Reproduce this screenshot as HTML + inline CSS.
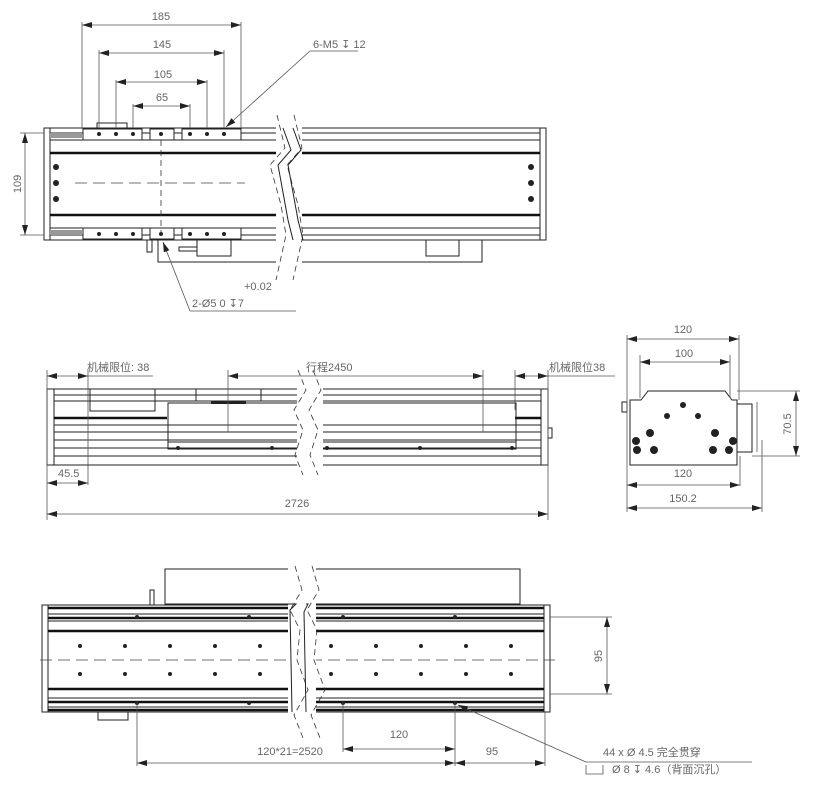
<!DOCTYPE html>
<html><head><meta charset="utf-8"><style>
html,body{margin:0;padding:0;background:#fff}
svg{display:block}
text{font-family:"Liberation Sans","Noto Sans CJK SC",sans-serif;font-size:11px;fill:#666}
.l{stroke:#222;stroke-width:1;fill:none}
.t{stroke:#555;stroke-width:0.8;fill:none}
.k{stroke:#111;stroke-width:2.5;fill:none}
.d{stroke:#444;stroke-width:0.8;fill:none;stroke-dasharray:12 6}
.b{stroke:#333;stroke-width:0.8;fill:none;stroke-dasharray:6 4}
</style></head><body>
<svg width="818" height="812" viewBox="0 0 818 812" xmlns="http://www.w3.org/2000/svg">
<defs>
<marker id="a" viewBox="0 0 10 6" refX="10" refY="3" markerWidth="10" markerHeight="6" orient="auto-start-reverse" markerUnits="userSpaceOnUse"><path d="M0,0 L10,3 L0,6z" fill="#222"/></marker>
</defs>

<!-- ===== TOP VIEW ===== -->
<g>
<rect x="44" y="128" width="502" height="112" class="l"/>
<line x1="50" y1="128" x2="50" y2="240" class="l"/>
<line x1="540" y1="128" x2="540" y2="240" class="l"/>
<line x1="50" y1="133" x2="540" y2="133" class="l"/>
<line x1="50" y1="140" x2="540" y2="140" class="l"/>
<line x1="50" y1="153" x2="540" y2="153" class="k"/>
<line x1="50" y1="215" x2="540" y2="215" class="k"/>
<line x1="50" y1="228" x2="540" y2="228" class="l"/>
<line x1="50" y1="235" x2="540" y2="235" class="l"/>
<rect x="50" y="133" width="32" height="5" fill="#999"/>
<rect x="50" y="230" width="32" height="5" fill="#999"/>
<!-- carriages -->
<g class="l" fill="#fff">
<rect x="83" y="129" width="59" height="11" fill="#fff"/>
<rect x="150" y="129" width="24" height="11" fill="#fff"/>
<rect x="182" y="129" width="59" height="11" fill="#fff"/>
<rect x="83" y="228" width="59" height="11" fill="#fff"/>
<rect x="150" y="228" width="24" height="11" fill="#fff"/>
<rect x="182" y="228" width="59" height="11" fill="#fff"/>
<rect x="97" y="123" width="30" height="6"/>
</g>
<g fill="#222">
<circle cx="99" cy="134" r="2"/><circle cx="116" cy="134" r="2"/><circle cx="133" cy="134" r="2"/>
<circle cx="161" cy="134" r="2"/>
<circle cx="190" cy="134" r="2"/><circle cx="207" cy="134" r="2"/><circle cx="224" cy="134" r="2"/>
<circle cx="99" cy="234" r="2"/><circle cx="116" cy="234" r="2"/><circle cx="133" cy="234" r="2"/>
<circle cx="161" cy="234" r="2"/>
<circle cx="190" cy="234" r="2"/><circle cx="207" cy="234" r="2"/><circle cx="224" cy="234" r="2"/>
<circle cx="56" cy="167" r="3"/><circle cx="56" cy="183" r="3"/><circle cx="56" cy="199" r="3"/>
<circle cx="531" cy="167" r="3"/><circle cx="531" cy="183" r="3"/><circle cx="531" cy="199" r="3"/>
</g>
<rect x="147" y="240" width="5" height="12" class="l"/>
<!-- lower unit -->
<rect x="158" y="240" width="324" height="22" class="l"/>
<rect x="197" y="240" width="34" height="16" class="l"/>
<rect x="179" y="247" width="18" height="4" class="l"/>
<rect x="426" y="240" width="33" height="16" class="l"/>
<line x1="75" y1="183" x2="245" y2="183" class="d"/>
<line x1="161" y1="140" x2="161" y2="240" class="b"/>
<!-- break -->
<rect x="276" y="115" width="26" height="170" fill="#fff"/>
<polyline points="277,115 285,148 270,165 281,205 286,235 276,280" class="b"/>
<polyline points="294,115 302,148 287,165 298,205 303,235 293,280" class="b"/>
<polyline points="283,128 291,150 278,165 288,220 293,240" class="l"/>
<polyline points="293,128 301,150 288,165 298,220 303,240" class="l"/>
<!-- dims -->
<g class="t">
<line x1="82" y1="22" x2="82" y2="128"/><line x1="241" y1="22" x2="241" y2="128"/>
<line x1="99" y1="50" x2="99" y2="128"/><line x1="224" y1="50" x2="224" y2="128"/>
<line x1="116" y1="80" x2="116" y2="128"/><line x1="207" y1="80" x2="207" y2="128"/>
<line x1="133" y1="104" x2="133" y2="128"/><line x1="190" y1="104" x2="190" y2="128"/>
<line x1="20" y1="133" x2="44" y2="133"/><line x1="20" y1="235" x2="44" y2="235"/>
</g>
<g class="t" marker-start="url(#a)" marker-end="url(#a)">
<line x1="82" y1="25" x2="241" y2="25"/>
<line x1="99" y1="53" x2="224" y2="53"/>
<line x1="116" y1="82" x2="207" y2="82"/>
<line x1="133" y1="106" x2="190" y2="106"/>
<line x1="25" y1="133" x2="25" y2="235"/>
</g>
<text x="161" y="20" text-anchor="middle">185</text>
<text x="162" y="48" text-anchor="middle">145</text>
<text x="163" y="78" text-anchor="middle">105</text>
<text x="162" y="101" text-anchor="middle">65</text>
<text transform="translate(21,184) rotate(-90)" text-anchor="middle">109</text>
<text x="313" y="48">6-M5 ↧ 12</text>
<line x1="310" y1="51" x2="358" y2="51" class="t"/>
<line x1="310" y1="51" x2="226" y2="127" class="t" marker-end="url(#a)"/>
<text x="244" y="290">+0.02</text>
<text x="192" y="307">2-Ø5  0   ↧7</text>
<line x1="190" y1="311" x2="296" y2="311" class="t"/>
<line x1="190" y1="311" x2="163" y2="242" class="t" marker-end="url(#a)"/>
</g>

<!-- ===== SIDE VIEW ===== -->
<g>
<rect x="47" y="389" width="501" height="76" class="l"/>
<line x1="54" y1="389" x2="54" y2="465" class="l"/>
<line x1="541" y1="389" x2="541" y2="465" class="l"/>
<line x1="54" y1="395" x2="541" y2="395" class="l"/>
<line x1="54" y1="401" x2="541" y2="401" class="l"/>
<line x1="54" y1="418" x2="167" y2="418" class="k"/>
<line x1="515" y1="418" x2="541" y2="418" class="k"/>
<line x1="54" y1="425" x2="541" y2="425" class="l"/>
<line x1="54" y1="432" x2="541" y2="432" class="l"/>
<line x1="54" y1="440" x2="541" y2="440" class="l"/>
<line x1="54" y1="448" x2="541" y2="448" class="l"/>
<line x1="54" y1="456" x2="541" y2="456" class="l"/>
<rect x="90" y="389" width="65" height="22" class="l" fill="#fff"/>
<rect x="196" y="389" width="65" height="12" class="l" fill="#fff"/>
<rect x="211" y="401" width="35" height="3" fill="#222"/>
<rect x="168" y="403" width="348" height="46" class="l" fill="#fff"/>
<line x1="168" y1="442" x2="516" y2="442" class="l"/>
<g fill="#222"><circle cx="178" cy="448" r="2"/><circle cx="272" cy="448" r="2"/><circle cx="327" cy="448" r="2"/><circle cx="420" cy="448" r="2"/><circle cx="512" cy="448" r="2"/><circle cx="108" cy="457" r="0"/></g>
<rect x="548" y="428" width="4" height="10" class="l"/>
<rect x="297" y="375" width="26" height="100" fill="#fff"/>
<polyline points="298,370 306,390 294,410 303,430 295,455 303,475" class="b"/>
<polyline points="313,370 321,390 309,410 318,430 310,455 318,475" class="b"/>
<g class="t">
<line x1="47" y1="370" x2="47" y2="520"/><line x1="548" y1="370" x2="548" y2="520"/>
<line x1="88" y1="370" x2="88" y2="485"/>
<line x1="228" y1="370" x2="228" y2="432"/><line x1="483" y1="370" x2="483" y2="432"/>
<line x1="515" y1="370" x2="515" y2="410"/>
<line x1="87" y1="376" x2="153" y2="376"/>
<line x1="548" y1="376" x2="615" y2="376"/>
</g>
<g class="t" marker-end="url(#a)">
<line x1="70" y1="376" x2="47" y2="376"/><line x1="70" y1="376" x2="88" y2="376"/>
<line x1="530" y1="376" x2="515" y2="376"/><line x1="530" y1="376" x2="548" y2="376"/>
<line x1="65" y1="483" x2="47" y2="483"/><line x1="65" y1="483" x2="88" y2="483"/>
</g>
<g class="t" marker-start="url(#a)" marker-end="url(#a)">
<line x1="228" y1="376" x2="483" y2="376"/>
<line x1="47" y1="514" x2="548" y2="514"/>
</g>
<text x="87" y="371">机械限位: 38</text>
<text x="306" y="371">行程2450</text>
<text x="549" y="371">机械限位38</text>
<text x="58" y="477">45.5</text>
<text x="297" y="507" text-anchor="middle">2726</text>
</g>

<!-- ===== END VIEW ===== -->
<g>
<polygon points="630,391 641,391 648,382 725,382 732,391 737,391 737,456 630,456" class="l" fill="#fff" transform="translate(0,9)"/>
<rect x="622" y="402" width="5" height="10" class="l"/>
<rect x="737" y="404" width="15" height="48" class="l"/>
<line x1="757" y1="402" x2="757" y2="452" class="t"/>
<g fill="#222">
<circle cx="683" cy="405" r="3"/><circle cx="667" cy="416" r="3"/><circle cx="698" cy="416" r="3"/>
<circle cx="650" cy="433" r="4"/><circle cx="715" cy="433" r="4"/>
<circle cx="636" cy="441" r="4"/><circle cx="733" cy="441" r="4"/>
<circle cx="637" cy="450" r="4"/><circle cx="654" cy="450" r="4"/><circle cx="713" cy="450" r="4"/><circle cx="729" cy="450" r="4"/>
</g>
<g class="t">
<line x1="627" y1="335" x2="627" y2="512"/><line x1="739" y1="335" x2="739" y2="400"/>
<line x1="640" y1="355" x2="640" y2="398"/><line x1="730" y1="355" x2="730" y2="398"/>
<line x1="740" y1="456" x2="740" y2="486"/><line x1="762" y1="440" x2="762" y2="512"/>
<line x1="737" y1="391" x2="800" y2="391"/><line x1="752" y1="456" x2="800" y2="456"/>
</g>
<g class="t" marker-start="url(#a)" marker-end="url(#a)">
<line x1="627" y1="339" x2="739" y2="339"/>
<line x1="640" y1="362" x2="730" y2="362"/>
<line x1="627" y1="485" x2="740" y2="485"/>
<line x1="627" y1="508" x2="762" y2="508"/>
<line x1="796" y1="391" x2="796" y2="456"/>
</g>
<text x="683" y="333" text-anchor="middle">120</text>
<text x="684" y="357" text-anchor="middle">100</text>
<text x="683" y="477" text-anchor="middle">120</text>
<text x="683" y="502" text-anchor="middle">150.2</text>
<text transform="translate(791,424) rotate(-90)" text-anchor="middle">70.5</text>
</g>

<!-- ===== BOTTOM VIEW ===== -->
<g>
<rect x="165" y="569" width="355" height="35" class="l"/>
<rect x="150" y="590" width="4" height="15" class="l"/>
<rect x="42" y="605" width="508" height="107" class="l"/>
<line x1="48" y1="605" x2="48" y2="712" class="l"/>
<line x1="544" y1="605" x2="544" y2="712" class="l"/>
<line x1="48" y1="608" x2="544" y2="608" class="k"/>
<line x1="48" y1="614" x2="544" y2="614" class="l"/>
<line x1="48" y1="618" x2="544" y2="618" class="k"/>
<line x1="48" y1="621" x2="544" y2="621" class="l"/>
<line x1="48" y1="631" x2="544" y2="631" class="k"/>
<line x1="48" y1="689" x2="544" y2="689" class="k"/>
<line x1="48" y1="698" x2="544" y2="698" class="l"/>
<line x1="48" y1="702" x2="544" y2="702" class="k"/>
<line x1="48" y1="707" x2="544" y2="707" class="l"/>
<line x1="48" y1="710" x2="544" y2="710" class="k"/>
<rect x="98" y="712" width="30" height="8" class="l"/>
<line x1="40" y1="660" x2="555" y2="660" class="d"/>
<g fill="#222">
<circle cx="80" cy="702" r="0"/>
<circle cx="80" cy="646" r="2"/><circle cx="125" cy="646" r="2"/><circle cx="170" cy="646" r="2"/><circle cx="215" cy="646" r="2"/><circle cx="260" cy="646" r="2"/><circle cx="331" cy="646" r="2"/><circle cx="376" cy="646" r="2"/><circle cx="421" cy="646" r="2"/><circle cx="466" cy="646" r="2"/><circle cx="511" cy="646" r="2"/>
<circle cx="80" cy="674" r="2"/><circle cx="125" cy="674" r="2"/><circle cx="170" cy="674" r="2"/><circle cx="215" cy="674" r="2"/><circle cx="260" cy="674" r="2"/><circle cx="331" cy="674" r="2"/><circle cx="376" cy="674" r="2"/><circle cx="421" cy="674" r="2"/><circle cx="466" cy="674" r="2"/><circle cx="511" cy="674" r="2"/>
<circle cx="137" cy="617" r="2"/><circle cx="249" cy="617" r="2"/><circle cx="343" cy="617" r="2"/><circle cx="455" cy="617" r="2"/>
<circle cx="137" cy="703" r="2"/><circle cx="249" cy="703" r="2"/><circle cx="343" cy="703" r="2"/><circle cx="455" cy="703" r="2"/>
</g>
<rect x="288" y="566" width="28" height="160" fill="#fff"/>
<polyline points="295,566 302,590 290,610 300,630 297,660 308,690 294,715 303,738" class="b"/>
<polyline points="312,566 319,590 307,610 317,630 314,660 325,690 311,715 320,738" class="b"/>
<polyline points="288,604 296,604 290,610 292,712" class="l"/>
<polyline points="306,604 308,604 304,612 306,712" class="l"/>
<g class="t">
<line x1="137" y1="703" x2="137" y2="766"/>
<line x1="343" y1="703" x2="343" y2="752"/>
<line x1="455" y1="703" x2="455" y2="766"/>
<line x1="545" y1="712" x2="545" y2="766"/>
<line x1="550" y1="617" x2="612" y2="617"/>
<line x1="550" y1="694" x2="612" y2="694"/>
</g>
<g class="t" marker-start="url(#a)" marker-end="url(#a)">
<line x1="343" y1="749" x2="455" y2="749"/>
<line x1="137" y1="763" x2="455" y2="763"/>
<line x1="455" y1="763" x2="545" y2="763"/>
<line x1="607" y1="617" x2="607" y2="694"/>
</g>
<text x="399" y="738" text-anchor="middle">120</text>
<text x="290" y="755" text-anchor="middle">120*21=2520</text>
<text x="492" y="755" text-anchor="middle">95</text>
<text transform="translate(602,656) rotate(-90)" text-anchor="middle">95</text>
<text x="603" y="756">44 x  Ø  4.5 完全贯穿</text>
<line x1="586" y1="762" x2="752" y2="762" class="t"/>
<line x1="586" y1="762" x2="458" y2="705" class="t" marker-end="url(#a)"/>
<path d="M586,765 V774 H603 V765" class="t"/>
<text x="612" y="773">Ø  8  ↧  4.6（背面沉孔）</text>
</g>
</svg>
</body></html>
